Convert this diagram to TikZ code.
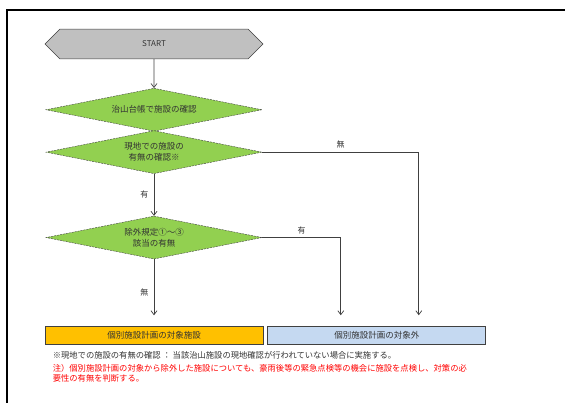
\documentclass[tikz,border=0pt]{standalone}
\usepackage{fontspec}
\setmainfont{Noto Sans CJK JP}
\usetikzlibrary{shapes.misc,shapes.geometric}
\usetikzlibrary{arrows.meta,positioning}

\definecolor{startgrau}{HTML}{C0C0C0}
\definecolor{pruefgruen}{HTML}{92D050}
\definecolor{zielgelb}{HTML}{FFC000}
\definecolor{zielblau}{HTML}{C5D9F1}
\definecolor{linie}{HTML}{404040}
\definecolor{schrift}{HTML}{333333}

\begin{document}
\begin{tikzpicture}[
	x=1pt, y=1pt,
	node distance=29pt,
	font=\fontsize{8}{10}\selectfont,
	text=schrift,
	pfeil/.style={
		->,
		>={Straight Barb[length=4pt,width=6pt]},
		draw=linie,
		line width=0.7pt
	},
	beginn/.style={
		chamfered rectangle,
		chamfered rectangle xsep=5pt,
		chamfered rectangle ysep=13pt,
		draw=linie,
		fill=startgrau,
		minimum width=218pt,
		minimum height=26pt,
		inner sep=0pt
	},
	raute/.style={
		diamond,
		aspect=5,
		draw=linie,
		dash pattern=on 2pt off 1pt,
		fill=pruefgruen,
		minimum width=216pt,
		minimum height=43pt,
		inner sep=0pt,
		align=center,
		font=\fontsize{8.5}{11}\selectfont
	},
	kasten/.style={
		draw=linie,
		line width=0.8pt,
		minimum width=218pt,
		minimum height=18pt,
		inner sep=0pt,
		font=\fontsize{8.5}{10}\selectfont
	},
	hinweis/.style={
		inner sep=0pt,
		align=left,
		font=\fontsize{8.3}{10}\selectfont
	}
]
\useasboundingbox (0,0) rectangle (565,-403);

% Rahmen
\draw[line width=2pt, black] (6.5,-403) -- (6.5,-10) -- (565,-10);

\node[beginn] (START) at (154,-44) {START};

\node[raute] (DAICHO) [below=29pt of START] {治山台帳で施設の確認};
\node[raute] (GENCHI) [below=-1pt of DAICHO] {現地での施設の\\有無の確認※};
\node[raute] (JOGAI) [below=42pt of GENCHI] {除外規定①～③\\該当の有無};

\node[kasten, fill=zielgelb] (TAISHO) [below=67pt of JOGAI] {個別施設計画の対象施設};
\node[kasten, fill=zielblau] (GAI) [right=4pt of TAISHO] {個別施設計画の対象外};

\node[hinweis] (ANM) [below=6pt of TAISHO.south west, anchor=north west, xshift=8pt]
{※現地での施設の有無の確認 ： 当該治山施設の現地確認が行われていない場合に実施する。};
\node[hinweis, text=red] (NOTIZ) [below=5pt of ANM.south west, anchor=north west]
{注）個別施設計画の対象から除外した施設についても、豪雨後等の緊急点検等の機会に施設を点検し、対策の必\\要性の有無を判断する。};

\draw[pfeil] (START) -> (DAICHO);
\draw[pfeil] (GENCHI) -> node[left, xshift=-2pt] {有} (JOGAI);
\draw[pfeil, shorten >=11pt] (JOGAI) -> node[left, xshift=-2pt] {無} (TAISHO);
\draw[pfeil, shorten >=11pt] (GENCHI) -| node[pos=0.25, above] {無} ([xshift=42pt]GAI.north);
\draw[pfeil, shorten >=11pt] (JOGAI) -| node[pos=0.25, above] {有} ([xshift=-36pt]GAI.north);

\end{tikzpicture}
\end{document}
